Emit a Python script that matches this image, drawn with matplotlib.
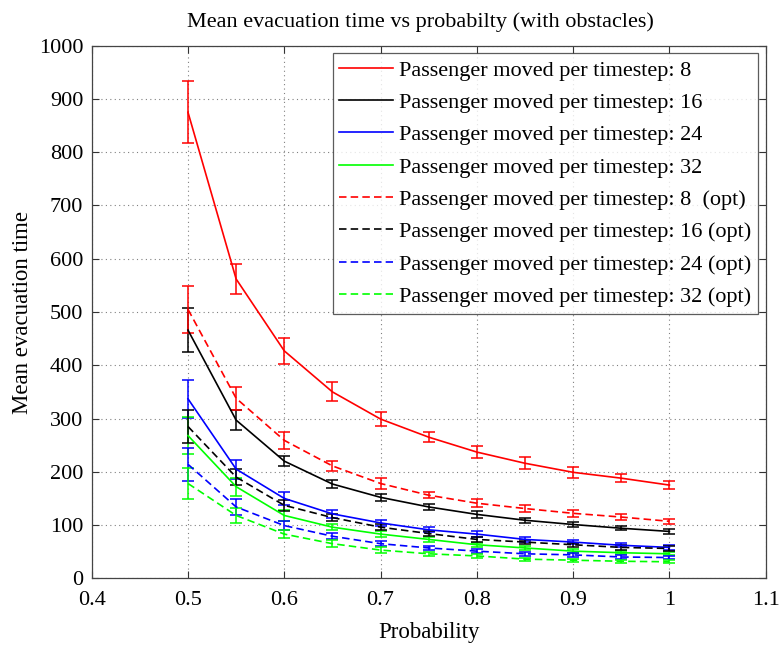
import matplotlib
matplotlib.use("Agg")
import matplotlib.pyplot as plt
import numpy as np

plt.rcParams['font.family'] = ['Liberation Serif', 'DejaVu Serif']

prob = [0.5, 0.55, 0.6, 0.65, 0.7, 0.75, 0.8, 0.85, 0.9, 0.95, 1.0]

p8 = [875, 562, 427, 350, 299, 265, 237, 216, 199, 188, 175]
p8_err = [58, 28, 25, 18, 13, 10, 12, 11, 10, 8, 8]
p16 = [466, 297, 220, 177, 152, 134, 120, 109, 101, 94, 88]
p16_err = [41, 19, 10, 8, 7, 5, 7, 5, 4, 4, 4]
p24 = [337, 205, 150, 121, 104, 91, 83, 73, 68, 62, 58]
p24_err = [36, 18, 12, 8, 6, 5, 5, 4, 4, 4, 4]
p32 = [268, 172, 118, 96, 83, 73, 63, 57, 51, 48, 46]
p32_err = [35, 17, 10, 6, 5, 5, 4, 4, 4, 3, 3]
p8o = [505, 338, 259, 211, 178, 156, 141, 131, 122, 115, 107]
p8o_err = [44, 22, 16, 10, 10, 6, 7, 6, 6, 5, 5]
p16o = [285, 190, 137, 114, 96, 84, 73, 68, 63, 58, 56]
p16o_err = [31, 15, 10, 6, 6, 5, 5, 4, 4, 4, 4]
p24o = [214, 134, 99, 79, 65, 57, 51, 46, 44, 40, 39]
p24o_err = [31, 15, 8, 6, 5, 4, 4, 4, 4, 3, 3]
p32o = [178, 118, 83, 65, 53, 46, 42, 36, 34, 32, 31]
p32o_err = [29, 14, 8, 6, 5, 4, 4, 3, 3, 3, 3]

labels = ["Passenger moved per timestep: 8",
          "Passenger moved per timestep: 16",
          "Passenger moved per timestep: 24",
          "Passenger moved per timestep: 32",
          "Passenger moved per timestep: 8  (opt)",
          "Passenger moved per timestep: 16 (opt)",
          "Passenger moved per timestep: 24 (opt)",
          "Passenger moved per timestep: 32 (opt)"]

series = [(p8, p8_err), (p16, p16_err), (p24, p24_err), (p32, p32_err),
          (p8o, p8o_err), (p16o, p16o_err), (p24o, p24o_err), (p32o, p32o_err)]
colors = ['#ff0000', '#000000', '#0000ff', '#00ff00'] * 2
styles = ['-'] * 4 + [(0, (4.5, 2.5))] * 4

W, H = 783, 649
fig = plt.figure(figsize=(W/100, H/100), dpi=100)
ax = fig.add_axes([91.7/W, 1 - 578.3/H, (765.7 - 91.7)/W, (578.3 - 45.7)/H])

handles = []
for (vals, errs), c, ls, lab in zip(series, colors, styles, labels):
    eb = ax.errorbar(prob, vals, yerr=errs, color=c, ecolor=c, elinewidth=1.1,
                     capsize=4.5, capthick=1.1, linewidth=1.2, linestyle=ls, label=lab)
    handles.append(eb.lines[0])

ax.set_xlim(0.4, 1.1)
ax.set_ylim(0, 1000)
ax.set_xticks(np.arange(0.4, 1.101, 0.1))
ax.set_xticklabels(['0.4', '0.5', '0.6', '0.7', '0.8', '0.9', '1', '1.1'])
ax.set_yticks(np.arange(0, 1001, 100))
ax.grid(True, linestyle=(0, (1, 3)), color='#808080', linewidth=0.8)
ax.tick_params(direction='in', top=True, right=True, labelsize=16, length=5,
               colors='#333333', labelcolor='black')
ax.tick_params(axis='x', pad=9)
ax.tick_params(axis='y', pad=6)
for s in ax.spines.values():
    s.set_color('#444444')
    s.set_linewidth(0.9)

fig.text(420/W, 1 - 27/H, "Mean evacuation time vs probabilty (with obstacles)",
         fontsize=16, ha='center', va='baseline')
ax.set_xlabel("Probability", fontsize=16.5, labelpad=9)
ax.set_ylabel("Mean evacuation time", fontsize=16.5, labelpad=4)

leg = ax.legend(handles, labels, loc='upper right', bbox_to_anchor=(1 - 7.4/674, 1 - 7.6/532.6),
                fontsize=16, frameon=True, fancybox=False, edgecolor='#333333',
                handlelength=2.4, handletextpad=0.3, labelspacing=0.53, borderpad=0.3,
                borderaxespad=0)
leg.get_frame().set_linewidth(0.9)

fig.savefig("out.png", dpi=100)
